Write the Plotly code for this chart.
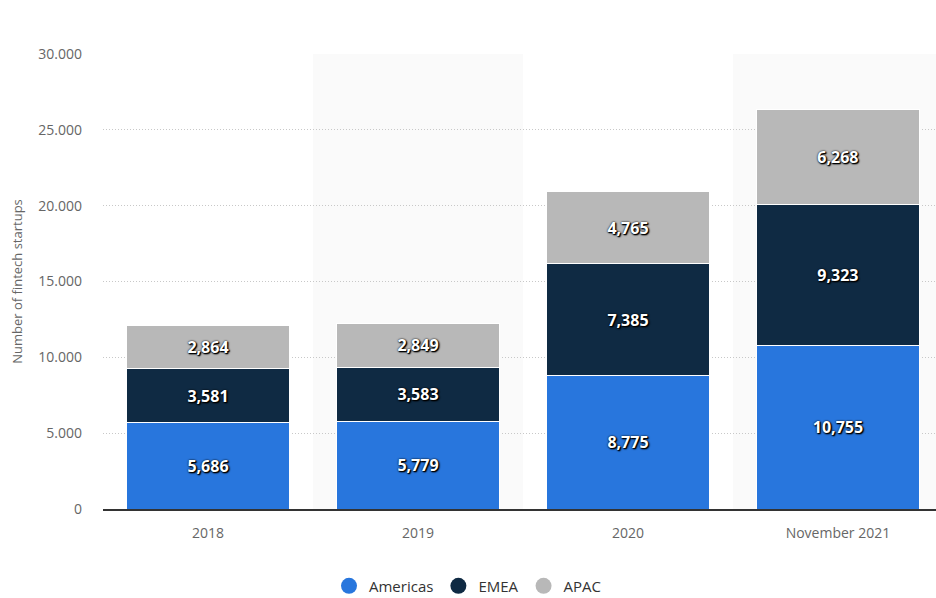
import plotly.graph_objects as go

categories = ["2018", "2019", "2020", "November 2021"]
americas = [5686, 5779, 8775, 10755]
emea = [3581, 3583, 7385, 9323]
apac = [2864, 2849, 4765, 6268]
series_names = ["Americas", "EMEA", "APAC"]
series_colors = ["#2876dd", "#0f2a43", "#b8b8b8"]
y_tickvals = [0, 5000, 10000, 15000, 20000, 25000, 30000]
y_ticktext = ["0", "5.000", "10.000", "15.000", "20.000", "25.000", "30.000"]

FONT = "Open Sans, Noto Sans, sans-serif"
fig = go.Figure()

for name, vals, col in zip(series_names, [americas, emea, apac], series_colors):
    fig.add_trace(go.Bar(
        x=categories, y=vals, name=name,
        marker=dict(color=col, line=dict(color="white", width=1)),
        text=[f"{v:,}" for v in vals],
        textposition="inside", insidetextanchor="middle",
        textfont=dict(family=FONT, size=16, color="white", weight="bold",
                      shadow="0px 0px 2px #000, 1px 1px 2px #000, 1px 1px 1px #000"),
        showlegend=False, hoverinfo="skip",
    ))

for name, col in zip(series_names, series_colors):
    fig.add_trace(go.Scatter(
        x=[None], y=[None], mode="markers", name=name,
        marker=dict(symbol="circle", size=16, color=col),
        showlegend=True,
    ))

# alternating background bands
for i in (1, 3):
    fig.add_shape(type="rect", xref="x", yref="paper",
                  x0=i - 0.5, x1=i + 0.5, y0=0, y1=1,
                  fillcolor="#fafafa", line=dict(width=0), layer="below")

fig.update_layout(
    width=936, height=598,
    margin=dict(l=103, r=0, t=54, b=89, autoexpand=False),
    paper_bgcolor="white", plot_bgcolor="white",
    barmode="stack", bargap=0.22,
    font=dict(family=FONT, color="#666666"),
    showlegend=True,
    legend=dict(orientation="h", xref="container", x=0.5, xanchor="center",
                yref="container", y=0.02, yanchor="middle",
                traceorder="normal",
                font=dict(family=FONT, size=15, color="#333333"),
                itemsizing="trace"),
    xaxis=dict(range=[-0.5, 3.467], showgrid=False, showline=True,
               linecolor="#333333", linewidth=1.5,
               tickfont=dict(family=FONT, size=14, color="#666666"),
               ticks="", ticklabelstandoff=10, fixedrange=True),
    yaxis=dict(range=[0, 30000], tickvals=y_tickvals, ticktext=y_ticktext,
               showgrid=True, gridcolor="#c8c8c8", griddash="1px,2px", gridwidth=1,
               zeroline=False, showline=False,
               tickfont=dict(family=FONT, size=14, color="#666666"),
               ticklabelstandoff=20,
               title=dict(text="Number of fintech startups",
                          font=dict(family=FONT, size=13, color="#666666"),
                          standoff=12),
               fixedrange=True),
)

fig.write_html("out.html", config={"displayModeBar": False},
               post_script="document.body.style.margin='0px';")
